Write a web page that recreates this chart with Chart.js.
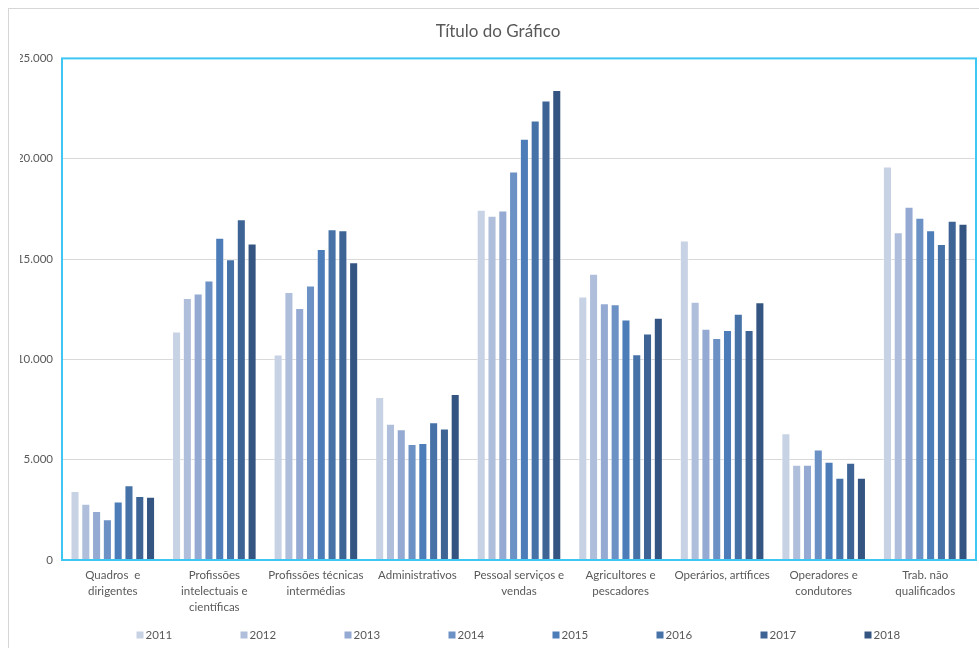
<!DOCTYPE html>
<html lang="pt">
<head>
<meta charset="utf-8">
<title>Título do Gráfico</title>
<script src="https://cdn.jsdelivr.net/npm/chart.js@4/dist/chart.umd.min.js"></script>
<style>
  html, body { margin: 0; padding: 0; background: #ffffff; overflow: hidden; }
  #frame {
    position: absolute; left: 8px; top: 8px; width: 1200px; height: 900px;
    border: 1px solid #d6d6d6; box-sizing: border-box;
  }
  #wrap { position: absolute; left: 0; top: 0; width: 979px; height: 648px; }
</style>
</head>
<body>
<div id="frame"></div>
<div id="wrap"><canvas id="chart" width="979" height="648"></canvas></div>
<script>
// Professional groups shown on the category axis (wrapped as they are printed)
const categories = [
  ["Quadros  e", "dirigentes"],
  ["Profissões", "intelectuais e", "científicas"],
  ["Profissões técnicas", "intermédias"],
  ["Administrativos"],
  ["Pessoal serviços e", "vendas"],
  ["Agricultores e", "pescadores"],
  ["Operários, artífices"],
  ["Operadores e", "condutores"],
  ["Trab. não", "qualificados"]
];

const years = ["2011", "2012", "2013", "2014", "2015", "2016", "2017", "2018"];

// One array per year, ordered like the categories
const v2011 = [3440, 11390, 10240, 8130, 17460, 13130, 15920, 6320, 19610];
const v2012 = [2800, 13060, 13360, 6790, 17160, 14270, 12870, 4750, 16340];
const v2013 = [2440, 13280, 12560, 6520, 17420, 12800, 11520, 4750, 17610];
const v2014 = [2030, 13930, 13680, 5780, 19360, 12750, 11070, 5510, 17060];
const v2015 = [2920, 16060, 15500, 5830, 21000, 11990, 11460, 4900, 16430];
const v2016 = [3730, 14990, 16480, 6860, 21900, 10250, 12270, 4100, 15750];
const v2017 = [3190, 16980, 16430, 6560, 22900, 11290, 11460, 4850, 16910];
const v2018 = [3150, 15770, 14840, 8270, 23420, 12070, 12850, 4100, 16760];

const yearValues = [v2011, v2012, v2013, v2014, v2015, v2016, v2017, v2018];
const yearColors = ["#c8d2e5", "#afbfdb", "#94aad2", "#6b91c5", "#4d7db9", "#4672a7", "#3e6496", "#345582"];

const FONT = "Lato, 'Open Sans', sans-serif";
const TEXT = "#595959";
const FRAME = "#3ec7f3";

function thousands(v) {
  return String(v).replace(/\B(?=(\d{3})+(?!\d))/g, ".");
}

// Frame drawn around the plot area, on top of the bars
const plotFrame = {
  id: "plotFrame",
  afterDatasetsDraw(chart) {
    const a = chart.chartArea, ctx = chart.ctx;
    ctx.save();
    ctx.strokeStyle = FRAME;
    ctx.lineWidth = 2;
    ctx.strokeRect(a.left, a.top, a.right - a.left, a.bottom - a.top);
    ctx.restore();
  }
};

// Evenly spaced legend row under the category labels
const spacedLegend = {
  id: "spacedLegend",
  afterDraw(chart) {
    const ctx = chart.ctx, a = chart.chartArea;
    const step = 104, box = 7, y = 635;
    const sets = chart.data.datasets;
    const total = step * (sets.length - 1) + 37;
    let x = (a.left + a.right) / 2 - total / 2;
    ctx.save();
    ctx.font = "11.5px " + FONT;
    ctx.textBaseline = "middle";
    ctx.textAlign = "left";
    sets.forEach((ds, i) => {
      const bx = x + i * step;
      ctx.fillStyle = ds.backgroundColor;
      ctx.fillRect(bx, y - box / 2, box, box);
      ctx.fillStyle = TEXT;
      ctx.fillText(ds.label, bx + box + 2, y);
    });
    ctx.restore();
  }
};

new Chart(document.getElementById("chart"), {
  type: "bar",
  data: {
    labels: categories,
    datasets: years.map((y, i) => ({
      label: y,
      data: yearValues[i],
      backgroundColor: yearColors[i],
      borderColor: "rgba(255,255,255,0.45)",
      borderWidth: 1,
      barPercentage: 0.84,
      categoryPercentage: 0.85
    }))
  },
  options: {
    responsive: false,
    animation: false,
    devicePixelRatio: 1,
    layout: { padding: { left: 20, right: 3, top: 0, bottom: 0 } },
    plugins: {
      legend: { display: false },
      tooltip: { enabled: false },
      title: {
        display: true,
        text: "Título do Gráfico",
        color: TEXT,
        font: { family: FONT, size: 17, weight: "normal", lineHeight: 1.2 },
        padding: { top: 21, bottom: 17 }
      }
    },
    scales: {
      x: {
        grid: { display: false, drawTicks: false },
        border: { display: false },
        ticks: {
          color: TEXT,
          padding: 7,
          maxRotation: 0,
          autoSkip: false,
          font: { family: FONT, size: 11.5, lineHeight: 16 / 11.5 }
        },
        afterFit(scale) { scale.height = 88; }
      },
      y: {
        min: 0,
        max: 25000,
        grid: { color: "#d9d9d9", lineWidth: 1, drawTicks: false },
        border: { display: false },
        ticks: {
          stepSize: 5000,
          color: TEXT,
          padding: 9,
          font: { family: FONT, size: 11.5 },
          callback: (v) => thousands(v)
        },
        afterFit(scale) { scale.width = 42; }
      }
    }
  },
  plugins: [plotFrame, spacedLegend]
});
</script>
</body>
</html>
